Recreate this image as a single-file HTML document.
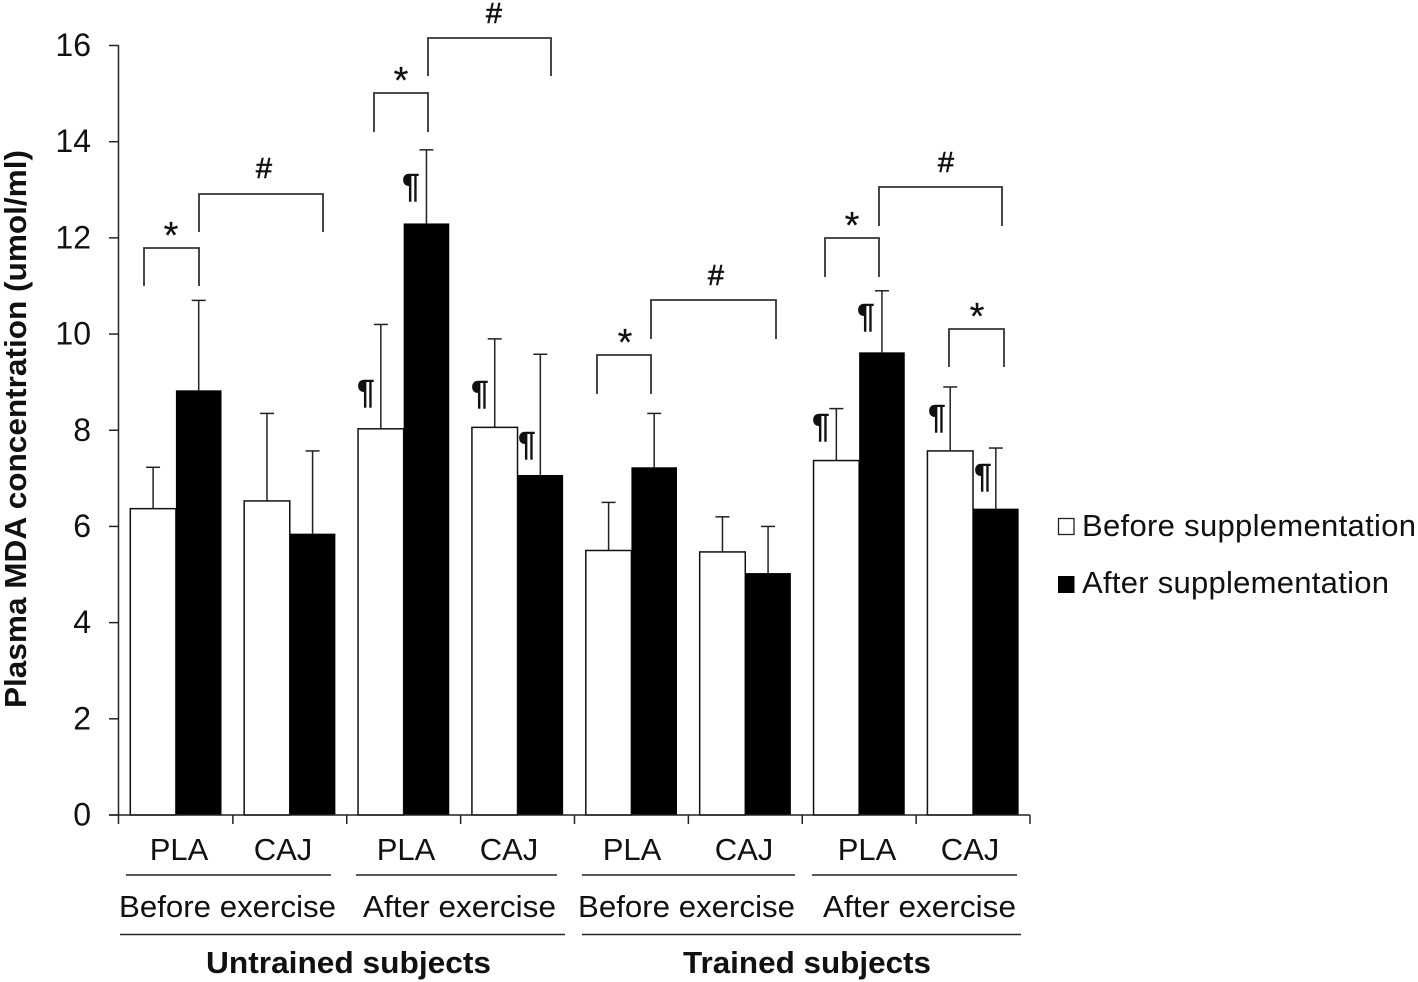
<!DOCTYPE html>
<html>
<head>
<meta charset="utf-8">
<style>
html,body{margin:0;padding:0;background:#fff;width:1418px;height:982px;overflow:hidden}
svg{display:block}
text{font-family:"Liberation Sans",sans-serif;fill:#111}
.b{font-weight:bold}
.m{stroke:#111;stroke-width:0.6}
.s{stroke:#111;stroke-width:0.2}
</style>
</head>
<body>
<svg id="chart" width="1418" height="982" viewBox="0 0 1418 982" xmlns="http://www.w3.org/2000/svg">
  <g id="bars"></g>
  <g id="axes"></g>

  <text class="b" font-size="31" text-anchor="middle" textLength="558" lengthAdjust="spacingAndGlyphs" transform="translate(26,429) rotate(-90)">Plasma MDA concentration (umol/ml)</text>

  <g font-size="31" text-anchor="middle">
    <text x="179" y="860">PLA</text>
    <text x="283" y="860">CAJ</text>
    <text x="406" y="860">PLA</text>
    <text x="509" y="860">CAJ</text>
    <text x="632" y="860">PLA</text>
    <text x="744" y="860">CAJ</text>
    <text x="867" y="860">PLA</text>
    <text x="970" y="860">CAJ</text>
  </g>
  <g font-size="31" text-anchor="middle">
    <text x="227.500" y="917" textLength="217" lengthAdjust="spacingAndGlyphs">Before exercise</text>
    <text x="459.500" y="917" textLength="193" lengthAdjust="spacingAndGlyphs">After exercise</text>
    <text x="686.500" y="917" textLength="217" lengthAdjust="spacingAndGlyphs">Before exercise</text>
    <text x="919.500" y="917" textLength="193" lengthAdjust="spacingAndGlyphs">After exercise</text>
  </g>
  <g font-size="31" text-anchor="middle" class="b">
    <text class="b" x="348.500" y="973" textLength="285" lengthAdjust="spacingAndGlyphs">Untrained subjects</text>
    <text class="b" x="807" y="973" textLength="248" lengthAdjust="spacingAndGlyphs">Trained subjects</text>
  </g>
  <g stroke="#222" stroke-width="1.500" fill="none">
    <path d="M126 875H331"/>
    <path d="M356 875H557"/>
    <path d="M582 875H795"/>
    <path d="M812 875H1017"/>
    <path d="M120 934.500H565"/>
    <path d="M582 934.500H1021"/>
  </g>

  <g stroke="#333" stroke-width="1.800" fill="none">
    <path d="M144 286V248H199V286"/>
    <path d="M199 232V194H323V232"/>
    <path d="M374 132V93H428V132"/>
    <path d="M428 76V38H551V76"/>
    <path d="M597 394V355H651V394"/>
    <path d="M651 339V300H776V339"/>
    <path d="M825 277V238H879V277"/>
    <path d="M879 226V187H1002V226"/>
    <path d="M949 367V329H1004V367"/>
  </g>
  <g text-anchor="middle" font-size="38">
    <text class="s" x="171" y="248">*</text>
    <text class="m" x="264" y="178" font-size="29">#</text>
    <text class="s" x="401" y="93">*</text>
    <text class="m" x="494" y="23" font-size="29">#</text>
    <text class="s" x="625" y="355">*</text>
    <text class="m" x="716" y="285" font-size="29">#</text>
    <text class="s" x="852" y="238">*</text>
    <text class="m" x="946" y="172" font-size="29">#</text>
    <text class="s" x="977" y="329">*</text>
    <g font-size="33">
      <text class="m" x="366" y="403">¶</text>
      <text class="m" x="411" y="197">¶</text>
      <text class="m" x="480" y="404">¶</text>
      <text class="m" x="527" y="455">¶</text>
      <text class="m" x="821" y="437">¶</text>
      <text class="m" x="866" y="327">¶</text>
      <text class="m" x="937" y="428">¶</text>
      <text class="m" x="983" y="487">¶</text>
    </g>
  </g>

  <g>
    <rect x="1058.500" y="518.500" width="15.500" height="16" fill="#fff" stroke="#222" stroke-width="1.300"/>
    <text x="1082" y="536" font-size="31" textLength="334" lengthAdjust="spacing">Before supplementation</text>
    <rect x="1058" y="576" width="16.500" height="17" fill="#000"/>
    <text x="1082" y="593" font-size="31" textLength="307" lengthAdjust="spacing">After supplementation</text>
  </g>
</svg>
<script>
var yTicks = [0, 2, 4, 6, 8, 10, 12, 14, 16];
var categories = ['Untrained before exercise PLA', 'Untrained before exercise CAJ', 'Untrained after exercise PLA', 'Untrained after exercise CAJ', 'Trained before exercise PLA', 'Trained before exercise CAJ', 'Trained after exercise PLA', 'Trained after exercise CAJ'];
var beforeValues = [6.37, 6.53, 8.03, 8.06, 5.50, 5.47, 7.37, 7.57];
var afterValues = [8.83, 5.85, 12.30, 7.07, 7.23, 5.03, 9.62, 6.37];
var beforeErrorTops = [7.23, 8.35, 10.20, 9.90, 6.50, 6.20, 8.45, 8.90];
var afterErrorTops = [10.70, 7.57, 13.83, 9.58, 8.35, 6.00, 10.90, 7.63];

var NS = 'http://www.w3.org/2000/svg';
function yScale(v) { return 815 - v * (815 - 45.5) / 16; }
function groupLeft(i) { return 119 + i * (1030 - 119) / categories.length; }
function make(tag, attrs, parent) {
  var el = document.createElementNS(NS, tag);
  for (var k in attrs) el.setAttribute(k, attrs[k]);
  parent.appendChild(el);
  return el;
}
var barsG = document.getElementById('bars');
var axesG = document.getElementById('axes');
var barW = 45.6, barOffset = 11.3;

function drawError(x, top, base, parent) {
  var stem = make('line', {x1: x, x2: x, y1: yScale(top), y2: yScale(base), stroke: '#222', 'stroke-width': 1.5}, parent);
  
  
  var cap = make('line', {x1: x - 7, x2: x + 7, y1: yScale(top), y2: yScale(top), stroke: '#222', 'stroke-width': 1.5}, parent);
  
  
}

categories.forEach(function (cat, i) {
  var left = groupLeft(i) + barOffset;
  drawError(left + barW / 2, beforeErrorTops[i], beforeValues[i], barsG);
  drawError(left + barW * 1.5, afterErrorTops[i], afterValues[i], barsG);
  var wb = make('rect', {x: left, y: yScale(beforeValues[i]), width: barW, height: yScale(0) - yScale(beforeValues[i]), fill: '#fff', stroke: '#111', 'stroke-width': 1.5}, barsG);
  
  
  var bb = make('rect', {x: left + barW, y: yScale(afterValues[i]), width: barW, height: yScale(0) - yScale(afterValues[i]), fill: '#000'}, barsG);
  
  
});

var yAxis = make('line', {x1: 118.5, x2: 118.5, y1: yScale(16), y2: yScale(0) + 9, stroke: '#222', 'stroke-width': 1.5}, axesG);


var xAxis = make('line', {x1: 109, x2: 1030, y1: yScale(0), y2: yScale(0), stroke: '#222', 'stroke-width': 1.5}, axesG);



yTicks.forEach(function (t) {
  var tick = make('line', {x1: 109, x2: 119, y1: yScale(t), y2: yScale(t), stroke: '#222', 'stroke-width': 1.5}, axesG);
  
  
  var label = make('text', {x: 91, y: yScale(t) + 10.5, 'font-size': 32, 'text-anchor': 'end'}, axesG);
  
  
  label.textContent = t;
});
for (var i = 1; i <= categories.length; i++) {
  var xt = make('line', {x1: groupLeft(i), x2: groupLeft(i), y1: yScale(0), y2: yScale(0) + 9, stroke: '#222', 'stroke-width': 1.5}, axesG);
  
  
}
</script>
</body>
</html>
